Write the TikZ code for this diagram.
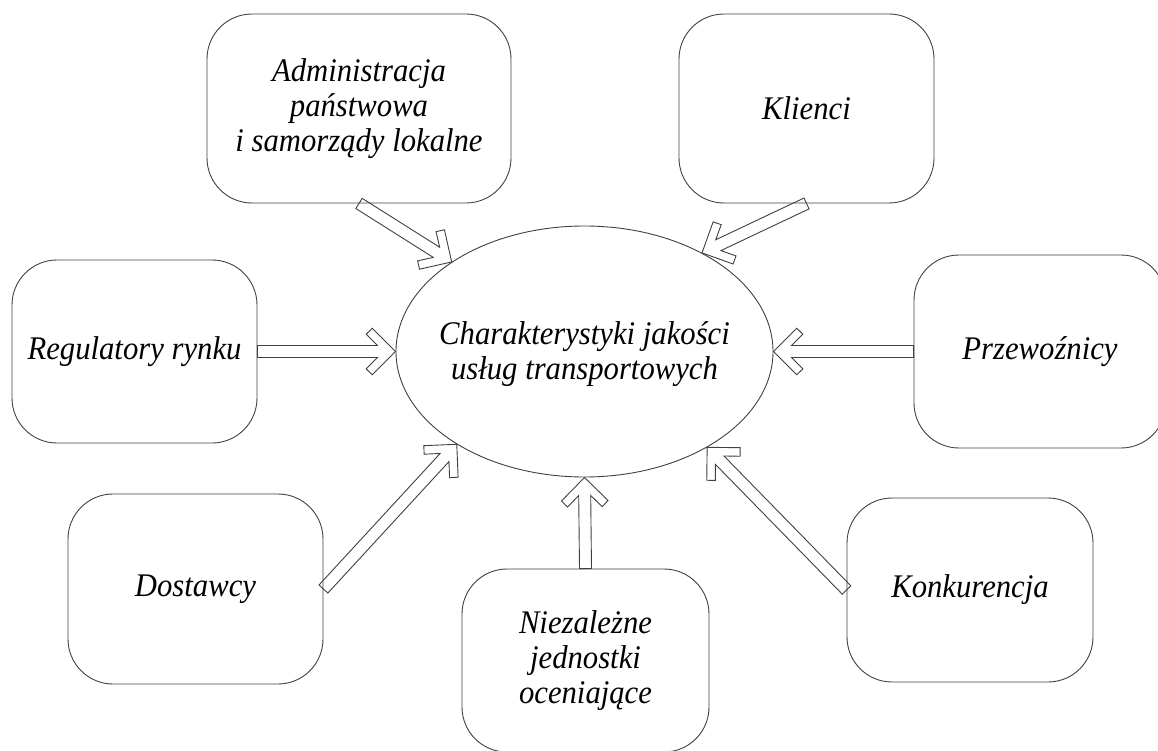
\documentclass[tikz,border=0pt]{standalone}
\usepackage{fontspec}
\setmainfont{Liberation Serif}[FakeStretch=0.93]
\usetikzlibrary{shapes.geometric,calc}

\tikzset{
  box/.style={draw=black!75, line width=0.9pt, rounded corners=45pt,
    align=center, inner sep=0pt, font=\fontsize{33}{35}\selectfont\itshape},
  hollow/.style={draw=black!75, line width=0.9pt, to path={
    let \p1=(\tikztostart), \p2=(\tikztotarget),
        \n1={atan2(\y2-\y1,\x2-\x1)}
    in ($(\p1)+(\n1+90:6pt)$)
    -- ($(\p2)+(\n1+180:18pt)+(\n1+90:6pt)$)
    -- ($(\p2)+(\n1+180:29.4pt)+(\n1+90:17.3pt)$)
    -- ($(\p2)+(\n1+180:23.3pt)+(\n1+90:23.3pt)$)
    -- (\p2)
    -- ($(\p2)+(\n1+180:23.3pt)+(\n1-90:23.3pt)$)
    -- ($(\p2)+(\n1+180:29.4pt)+(\n1-90:17.3pt)$)
    -- ($(\p2)+(\n1+180:18pt)+(\n1-90:6pt)$)
    -- ($(\p1)+(\n1-90:6pt)$)
    -- cycle}}
}

\begin{document}
\begin{tikzpicture}[x=1pt,y=-1pt]
  \useasboundingbox (0,0) rectangle (1158,751);

  \node[ellipse, draw=black!75, line width=0.9pt, minimum width=377pt,
    minimum height=251pt] (char) at (584.5,351.5) {};
  \node[align=center, font=\fontsize{33}{35}\selectfont\itshape] (chartxt)
    at (584.5,354) {Charakterystyki jakości\\usług transportowych};

  \node[box, minimum width=304pt, minimum height=189pt] (adm) at (359,108.5)
    {Administracja\\państwowa\\i samorządy lokalne};
  \node[box, minimum width=255pt, minimum height=189pt] (kli) at (806.5,108.5) {Klienci};
  \node[box, minimum width=245pt, minimum height=183pt] (reg) at (134.5,351.5) {Regulatory rynku};
  \node[box, minimum width=252pt, minimum height=193pt] (prz) at (1040,351.5) {Przewoźnicy};
  \node[box, minimum width=255pt, minimum height=190pt] (dos) at (195.5,589) {Dostawcy};
  \node[box, minimum width=247pt, minimum height=183pt] (nie) at (585.5,660.5)
    {Niezależne\\jednostki\\oceniające};
  \node[box, minimum width=246pt, minimum height=184pt] (kon) at (970,590) {Konkurencja};

  % everything points at the ellipse
  \draw[hollow] (adm.south) to (char.146);
  \draw[hollow] (kli.south) to (char.40);
  \draw[hollow] (reg.east) to (char.180);
  \draw[hollow] (prz.west) to (char.0);
  \draw[hollow] (dos.east) to (char.216);
  \draw[hollow] (nie.north) to (char.270);
  \draw[hollow] (kon.west) to (char.322);

\end{tikzpicture}
\end{document}
